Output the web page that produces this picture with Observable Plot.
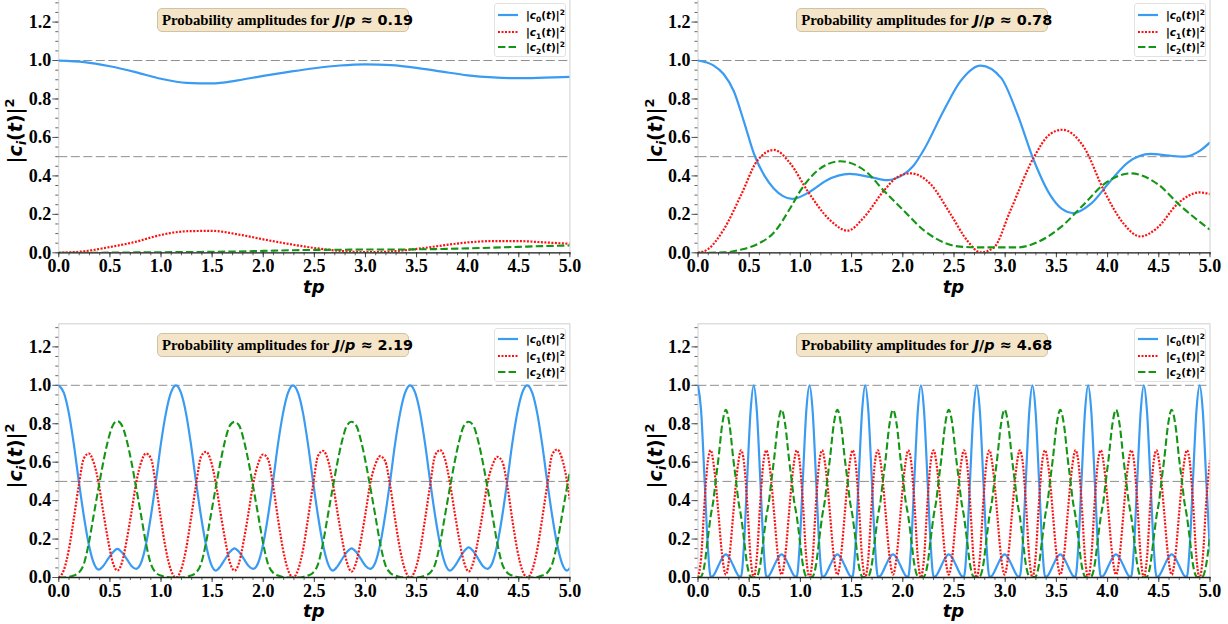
<!DOCTYPE html>
<html>
<head>
<meta charset="utf-8">
<script src="https://cdn.jsdelivr.net/npm/d3@7"></script>
<script src="https://cdn.jsdelivr.net/npm/@observablehq/plot@0.6"></script>
<style>
  html,body{margin:0;padding:0;background:#fff;}
  #wrap{position:relative;width:1228px;height:624px;overflow:hidden;background:#fff;}
  .panel{position:absolute;}
  .tbox{position:absolute;box-sizing:border-box;height:24px;width:252px;background:#f5e5c8;border:1px solid #cfc2a5;border-radius:5px;white-space:nowrap;font:bold 14.8px "Liberation Serif",serif;color:#000;line-height:22px;padding-left:4px;}
  .tbox .m{font-family:"DejaVu Sans";font-weight:bold;font-size:14.4px;margin-left:5px;}
  .tbox .m i{font-style:oblique;}
  .legend{position:absolute;box-sizing:border-box;width:72px;height:54px;background:#fff;border:1px solid #e2e2e2;border-radius:3px;}
  .lrow{position:absolute;left:0;height:14px;width:72px;}
  .lrow svg{position:absolute;left:2px;top:0;}
  .lab{position:absolute;left:31px;top:0;font:bold 10.5px "DejaVu Sans";line-height:14px;white-space:nowrap;}
  .lab sub,.lab sup{font-size:7.5px;line-height:0;}
  .ylab{position:absolute;font:bold 19px "DejaVu Sans";transform:translate(-50%,-50%) rotate(-90deg);white-space:nowrap;line-height:1;}
  .ylab sub,.ylab sup{font-size:13px;line-height:0;}
  .xlab{position:absolute;font:bold oblique 18px "DejaVu Sans";transform:translateX(-50%);line-height:12px;height:12px;}
</style>
</head>
<body>
<div id="wrap"></div>
<script>
// ---------- tick labels ----------
const xMajor = [0, 0.5, 1, 1.5, 2, 2.5, 3, 3.5, 4, 4.5, 5];
const xLabels = ["0.0","0.5","1.0","1.5","2.0","2.5","3.0","3.5","4.0","4.5","5.0"];
const yMajor = [0, 0.2, 0.4, 0.6, 0.8, 1.0, 1.2];
const yLabels = ["0.0","0.2","0.4","0.6","0.8","1.0","1.2"];
const refLines = [0.5, 1.0];
const ratios = ["0.19", "0.78", "2.19", "4.68"];
const seriesSub = ["0", "1", "2"];

// ---------- panel 1 (J/p ≈ 0.19) ----------
const p1_t  = [0,0.25,0.5,0.75,1,1.25,1.5,1.75,2,2.25,2.5,2.75,3,3.25,3.5,3.75,4,4.25,4.5,4.75,5];
const p1_c0 = [1,0.992,0.97,0.94,0.905,0.884,0.881,0.897,0.92,0.941,0.96,0.974,0.98,0.976,0.962,0.942,0.923,0.912,0.908,0.911,0.915];
const p1_c1 = [0,0.008,0.03,0.057,0.093,0.112,0.114,0.096,0.07,0.046,0.025,0.01,0.003,0.007,0.02,0.038,0.054,0.061,0.061,0.054,0.047];
const p1_c2 = [0,0,0.001,0.002,0.003,0.004,0.005,0.007,0.01,0.013,0.015,0.016,0.017,0.017,0.018,0.02,0.023,0.027,0.031,0.035,0.038];

// ---------- panel 2 (J/p ≈ 0.78) : [t, value] ----------
const p2_c0 = [[0,1.0],[0.15,0.975],[0.25,0.93],[0.35,0.84],[0.45,0.68],[0.55,0.51],[0.65,0.4],[0.74,0.335],[0.83,0.295],[0.92,0.28],[1.1,0.32],[1.25,0.375],[1.48,0.41],[1.7,0.392],[1.85,0.378],[2.0,0.405],[2.1,0.45],[2.21,0.54],[2.4,0.74],[2.56,0.89],[2.76,0.974],[2.96,0.91],[3.12,0.72],[3.28,0.48],[3.44,0.3],[3.55,0.23],[3.67,0.207],[3.835,0.254],[4.03,0.375],[4.2,0.47],[4.42,0.514],[4.6,0.505],[4.75,0.5],[4.9,0.53],[5.0,0.574]];
const p2_c1 = [[0,0],[0.1,0.02],[0.25,0.12],[0.42,0.3],[0.58,0.48],[0.742,0.535],[0.905,0.462],[1.068,0.323],[1.295,0.167],[1.46,0.115],[1.62,0.184],[1.815,0.323],[1.95,0.395],[2.077,0.413],[2.27,0.358],[2.468,0.2],[2.63,0.063],[2.76,0.002],[2.89,0.028],[3.05,0.219],[3.28,0.497],[3.44,0.618],[3.56,0.64],[3.77,0.548],[3.965,0.323],[4.16,0.149],[4.32,0.085],[4.49,0.132],[4.68,0.253],[4.9,0.314],[5.0,0.305]];
const p2_c2 = [[0,0],[0.254,0.002],[0.417,0.016],[0.58,0.045],[0.742,0.106],[0.905,0.236],[1.0,0.323],[1.166,0.427],[1.39,0.476],[1.65,0.418],[1.815,0.323],[2.01,0.219],[2.21,0.115],[2.4,0.054],[2.56,0.032],[2.79,0.028],[3.12,0.028],[3.31,0.054],[3.54,0.132],[3.77,0.253],[3.965,0.357],[4.225,0.413],[4.49,0.357],[4.71,0.245],[5.0,0.12]];

// ---------- panel 3 (J/p ≈ 2.19) ----------
const p3_t = [
0,0.05,0.1,0.145,0.196,0.245,0.294,0.34,0.39,0.435,0.48,0.527,0.573,0.619,0.666,0.711,0.756,0.806,0.852,0.901,0.95,1.0,1.046,1.096,
1.146,1.196,1.246,1.291,1.342,1.391,1.44,1.486,1.536,1.581,1.626,1.673,1.719,1.765,1.812,1.857,1.902,1.952,1.998,2.047,2.096,2.146,2.192,2.242,
2.291,2.341,2.391,2.436,2.487,2.536,2.585,2.631,2.681,2.726,2.771,2.818,2.864,2.91,2.957,3.002,3.047,3.097,3.143,3.192,3.241,3.291,3.337,3.387,
3.437,3.487,3.537,3.582,3.633,3.682,3.731,3.777,3.827,3.872,3.917,3.964,4.01,4.056,4.103,4.148,4.193,4.243,4.289,4.338,4.387,4.437,4.483,4.533,
4.582,4.632,4.682,4.727,4.778,4.827,4.876,4.922,4.972,5.0];
const p3_c0 = [
1,0.96,0.85,0.7,0.5,0.32,0.17,0.078,0.041,0.06,0.095,0.13,0.149,0.13,0.095,0.06,0.045,0.078,0.17,0.32,0.5,0.7,0.85,0.96,
1,0.96,0.85,0.7,0.5,0.32,0.17,0.075,0.036,0.058,0.095,0.132,0.152,0.132,0.095,0.06,0.045,0.078,0.17,0.32,0.5,0.7,0.85,0.96,
1,0.96,0.85,0.7,0.5,0.32,0.17,0.075,0.036,0.058,0.095,0.132,0.152,0.132,0.095,0.06,0.045,0.078,0.17,0.32,0.5,0.7,0.85,0.96,
1,0.96,0.85,0.7,0.5,0.32,0.17,0.075,0.036,0.058,0.097,0.136,0.157,0.136,0.097,0.06,0.045,0.078,0.17,0.32,0.5,0.7,0.85,0.96,
1,0.96,0.85,0.7,0.5,0.32,0.17,0.075,0.036,0.05];
const p3_c1 = [
0,0.04,0.15,0.3,0.48,0.62,0.645,0.6,0.49,0.34,0.2,0.08,0.036,0.08,0.2,0.34,0.49,0.6,0.645,0.62,0.48,0.3,0.15,0.04,
0,0.04,0.15,0.3,0.48,0.628,0.654,0.61,0.49,0.34,0.2,0.08,0.036,0.08,0.2,0.34,0.49,0.595,0.64,0.615,0.48,0.3,0.15,0.04,
0,0.04,0.15,0.3,0.48,0.633,0.659,0.615,0.49,0.34,0.2,0.08,0.031,0.08,0.2,0.34,0.49,0.588,0.631,0.607,0.48,0.3,0.15,0.04,
0,0.04,0.15,0.3,0.48,0.637,0.663,0.618,0.49,0.34,0.2,0.08,0.031,0.08,0.2,0.34,0.49,0.585,0.628,0.604,0.48,0.3,0.15,0.04,
0,0.04,0.15,0.3,0.48,0.64,0.666,0.62,0.5,0.4];
const p3_c2 = [
0,0,0.003,0.01,0.025,0.07,0.18,0.32,0.47,0.6,0.71,0.79,0.814,0.79,0.71,0.6,0.47,0.32,0.18,0.07,0.025,0.01,0.003,0,
0,0,0.003,0.01,0.025,0.07,0.18,0.32,0.47,0.6,0.71,0.79,0.81,0.79,0.71,0.6,0.47,0.32,0.18,0.07,0.025,0.01,0.003,0,
0,0,0.003,0.01,0.025,0.07,0.18,0.32,0.47,0.6,0.71,0.79,0.81,0.79,0.71,0.6,0.47,0.32,0.18,0.07,0.025,0.01,0.003,0,
0,0,0.003,0.01,0.025,0.07,0.18,0.32,0.47,0.6,0.71,0.79,0.81,0.79,0.71,0.6,0.47,0.32,0.18,0.07,0.025,0.01,0.003,0,
0,0,0.003,0.01,0.025,0.07,0.18,0.32,0.47,0.55];

// ---------- panel 4 (J/p ≈ 4.68) ----------
const p4_t = [
0,0.03,0.065,0.095,0.124,0.15,0.172,0.2,0.235,0.272,0.309,0.344,0.372,0.394,0.42,0.449,0.479,0.514,
0.544,0.574,0.609,0.639,0.668,0.694,0.716,0.744,0.779,0.816,0.853,0.888,0.916,0.938,0.964,0.993,1.023,1.058,
1.089,1.119,1.154,1.184,1.213,1.239,1.261,1.289,1.324,1.361,1.398,1.433,1.461,1.483,1.509,1.538,1.568,1.603,
1.633,1.663,1.698,1.728,1.757,1.783,1.805,1.833,1.868,1.905,1.942,1.977,2.005,2.027,2.053,2.082,2.112,2.147,
2.177,2.207,2.242,2.272,2.301,2.327,2.349,2.377,2.412,2.449,2.486,2.521,2.549,2.571,2.597,2.626,2.656,2.691,
2.722,2.752,2.787,2.817,2.846,2.872,2.894,2.922,2.957,2.994,3.031,3.066,3.094,3.116,3.142,3.171,3.201,3.236,
3.266,3.296,3.331,3.361,3.39,3.416,3.438,3.466,3.501,3.538,3.575,3.61,3.638,3.66,3.686,3.715,3.745,3.78,
3.81,3.84,3.875,3.905,3.934,3.96,3.982,4.01,4.045,4.082,4.119,4.154,4.182,4.204,4.23,4.259,4.289,4.324,
4.354,4.384,4.419,4.449,4.478,4.504,4.526,4.554,4.589,4.626,4.663,4.698,4.726,4.748,4.774,4.803,4.833,4.868,
4.899,4.929,4.964,5.0];
const p4_c0 = [
1,0.87,0.5,0.17,0.004,0.01,0.03,0.062,0.1,0.12,0.1,0.062,0.03,0.01,0.004,0.17,0.5,0.87,
1,0.87,0.5,0.17,0.004,0.01,0.03,0.062,0.1,0.12,0.1,0.062,0.03,0.01,0.004,0.17,0.5,0.87,
1,0.87,0.5,0.17,0.004,0.01,0.03,0.062,0.1,0.12,0.1,0.062,0.03,0.01,0.004,0.17,0.5,0.87,
1,0.87,0.5,0.17,0.004,0.01,0.03,0.062,0.1,0.12,0.1,0.062,0.03,0.01,0.004,0.17,0.5,0.87,
1,0.87,0.5,0.17,0.004,0.01,0.03,0.062,0.1,0.12,0.1,0.062,0.03,0.01,0.004,0.17,0.5,0.87,
1,0.87,0.5,0.17,0.004,0.01,0.03,0.062,0.1,0.12,0.1,0.062,0.03,0.01,0.004,0.17,0.5,0.87,
1,0.87,0.5,0.17,0.004,0.01,0.03,0.062,0.1,0.12,0.1,0.062,0.03,0.01,0.004,0.17,0.5,0.87,
1,0.87,0.5,0.17,0.004,0.01,0.03,0.062,0.1,0.12,0.1,0.062,0.03,0.01,0.004,0.17,0.5,0.87,
1,0.87,0.5,0.17,0.004,0.01,0.03,0.062,0.1,0.12,0.1,0.062,0.03,0.01,0.004,0.17,0.5,0.87,
1,0.87,0.5,0.13];
const p4_c1 = [
0,0.1,0.4,0.6,0.662,0.6,0.5,0.33,0.12,0.015,0.12,0.33,0.5,0.6,0.662,0.6,0.4,0.1,
0,0.1,0.4,0.6,0.662,0.6,0.5,0.33,0.12,0.015,0.12,0.33,0.5,0.6,0.662,0.6,0.4,0.1,
0,0.1,0.4,0.6,0.662,0.6,0.5,0.33,0.12,0.015,0.12,0.33,0.5,0.6,0.662,0.6,0.4,0.1,
0,0.1,0.4,0.6,0.662,0.6,0.5,0.33,0.12,0.015,0.12,0.33,0.5,0.6,0.662,0.6,0.4,0.1,
0,0.1,0.4,0.6,0.662,0.6,0.5,0.33,0.12,0.015,0.12,0.33,0.5,0.6,0.662,0.6,0.4,0.1,
0,0.1,0.4,0.6,0.662,0.6,0.5,0.33,0.12,0.015,0.12,0.33,0.5,0.6,0.662,0.6,0.4,0.1,
0,0.1,0.4,0.6,0.662,0.6,0.5,0.33,0.12,0.015,0.12,0.33,0.5,0.6,0.662,0.6,0.4,0.1,
0,0.1,0.4,0.6,0.662,0.6,0.5,0.33,0.12,0.015,0.12,0.33,0.5,0.6,0.662,0.6,0.4,0.1,
0,0.1,0.4,0.6,0.662,0.6,0.5,0.33,0.12,0.015,0.12,0.33,0.5,0.6,0.662,0.6,0.4,0.1,
0,0.1,0.4,0.61];
const p4_c2 = [
0,0.005,0.07,0.2,0.32,0.4,0.5,0.62,0.79,0.873,0.79,0.62,0.5,0.4,0.32,0.2,0.07,0.005,
0,0.005,0.07,0.2,0.32,0.4,0.5,0.62,0.79,0.873,0.79,0.62,0.5,0.4,0.32,0.2,0.07,0.005,
0,0.005,0.07,0.2,0.32,0.4,0.5,0.62,0.79,0.873,0.79,0.62,0.5,0.4,0.32,0.2,0.07,0.005,
0,0.005,0.07,0.2,0.32,0.4,0.5,0.62,0.79,0.873,0.79,0.62,0.5,0.4,0.32,0.2,0.07,0.005,
0,0.005,0.07,0.2,0.32,0.4,0.5,0.62,0.79,0.873,0.79,0.62,0.5,0.4,0.32,0.2,0.07,0.005,
0,0.005,0.07,0.2,0.32,0.4,0.5,0.62,0.79,0.873,0.79,0.62,0.5,0.4,0.32,0.2,0.07,0.005,
0,0.005,0.07,0.2,0.32,0.4,0.5,0.62,0.79,0.873,0.79,0.62,0.5,0.4,0.32,0.2,0.07,0.005,
0,0.005,0.07,0.2,0.32,0.4,0.5,0.62,0.79,0.873,0.79,0.62,0.5,0.4,0.32,0.2,0.07,0.005,
0,0.005,0.07,0.2,0.32,0.4,0.5,0.62,0.79,0.873,0.79,0.62,0.5,0.4,0.32,0.2,0.07,0.005,
0,0.005,0.07,0.22];

// ---------- styling ----------
const lineStyles = [
  {stroke: "#3a9bf2", strokeWidth: 2.2, strokeLinecap: "butt"},
  {stroke: "#ff1010", strokeWidth: 2.2, strokeDasharray: "2,1.5", strokeLinecap: "butt"},
  {stroke: "#139613", strokeWidth: 2.1, strokeDasharray: "7.4,3.2", strokeLinecap: "butt"}
];
const cols = [{x: 0, w: 600, ml: 58.3, mr: 30.6}, {x: 640, w: 588, ml: 57.5, mr: 18.5}];
const rowsL = [{y: -2, h: 300, mt: 0.5, mb: 45.7}, {y: 320, h: 300, mt: 3.3, mb: 43}];

const grid = (t, v) => t.map((d, i) => [d, v[i]]);
const panels = [
  {c: 0, r: 0, s: [grid(p1_t, p1_c0), grid(p1_t, p1_c1), grid(p1_t, p1_c2)]},
  {c: 1, r: 0, s: [p2_c0, p2_c1, p2_c2]},
  {c: 0, r: 1, s: [grid(p3_t, p3_c0), grid(p3_t, p3_c1), grid(p3_t, p3_c2)]},
  {c: 1, r: 1, s: [grid(p4_t, p4_c0), grid(p4_t, p4_c1), grid(p4_t, p4_c2)]}
];

const wrap = document.getElementById("wrap");
const yMinor = d3.range(0, 1.3001, 0.05);
const xMinor = d3.range(0, 5.0001, 0.1);

panels.forEach((p, k) => {
  const C = cols[p.c], R = rowsL[p.r];
  const marks = [
    Plot.frame({stroke: "#cfcfcf", strokeWidth: 1}),
    Plot.ruleY(refLines, {stroke: "#8f8f8f", strokeWidth: 1, strokeDasharray: "9,3.5"}),
    Plot.axisY({ticks: yMinor, tickSize: 3, tickFormat: () => "", stroke: "#666", label: null}),
    Plot.axisY({ticks: yMajor, tickSize: 6, tickPadding: 1.5, stroke: "#555",
      tickFormat: d => yLabels[yMajor.indexOf(d)], fontSize: 18, fontWeight: "bold",
      fontFamily: "Liberation Serif", fill: "#000", label: null}),
    Plot.axisX({ticks: xMinor, tickSize: 3, tickFormat: () => "", stroke: "#666", label: null}),
    Plot.axisX({ticks: xMajor, tickSize: 5, tickPadding: 1.5, stroke: "#444",
      tickFormat: d => xLabels[xMajor.indexOf(d)], fontSize: 18, fontWeight: "bold",
      fontFamily: "Liberation Serif", fill: "#000", label: null})
  ];
  p.s.forEach((pts, si) => {
    marks.push(Plot.line(pts, {x: d => d[0], y: d => d[1], curve: "monotone-x", clip: true, ...lineStyles[si]}));
  });
  marks.push(Plot.frame({anchor: "bottom", stroke: "#222", strokeWidth: 1.3}));
  const svg = Plot.plot({
    width: C.w, height: R.h,
    marginLeft: C.ml, marginRight: C.mr, marginTop: R.mt, marginBottom: R.mb,
    x: {domain: [0, 5]},
    y: {domain: [0, 1.32]},
    style: {background: "transparent", fontFamily: "Liberation Serif", fontSize: "18px", fontWeight: "bold", overflow: "visible"},
    marks
  });
  const holder = document.createElement("div");
  holder.className = "panel";
  holder.style.left = C.x + "px";
  holder.style.top = R.y + "px";
  holder.appendChild(svg);
  wrap.appendChild(holder);

  const plotLeft = C.x + C.ml, plotRight = C.x + C.w - C.mr;
  const plotTop = R.y + R.mt;

  // title box
  const tb = document.createElement("div");
  tb.className = "tbox";
  tb.style.left = (plotLeft + 98.7) + "px";
  tb.style.top = (plotTop + 9.8) + "px";
  tb.innerHTML = 'Probability amplitudes for<span class="m"><i>J</i>/<i>p</i> ≈ ' + ratios[k] + '</span>';
  wrap.appendChild(tb);

  // legend
  const lg = document.createElement("div");
  lg.className = "legend";
  lg.style.left = (plotRight - 75.5) + "px";
  lg.style.top = (plotTop + 4.5) + "px";
  [10.5, 27.5, 43].forEach((cy, si) => {
    const row = document.createElement("div");
    row.className = "lrow";
    row.style.top = (cy - 7) + "px";
    const st = lineStyles[si];
    row.innerHTML = `<svg width="24" height="14"><line x1="1" x2="21" y1="7" y2="7" stroke="${st.stroke}" stroke-width="${st.strokeWidth}" stroke-dasharray="${st.strokeDasharray || ""}"/></svg>` +
      `<span class="lab">|<i>c</i><sub>${seriesSub[si]}</sub>(<i>t</i>)|<sup>2</sup></span>`;
    lg.appendChild(row);
  });
  wrap.appendChild(lg);

  // y label
  const yl = document.createElement("div");
  yl.className = "ylab";
  yl.style.left = (plotLeft - 43) + "px";
  yl.style.top = (plotTop + 132.5) + "px";
  yl.innerHTML = '|<i>c</i><sub><i>i</i></sub>(<i>t</i>)|<sup>2</sup>';
  wrap.appendChild(yl);

  // x label
  const xl = document.createElement("div");
  xl.className = "xlab";
  xl.style.left = ((plotLeft + plotRight) / 2) + "px";
  xl.style.top = (plotTop + 282) + "px";
  xl.textContent = "tp";
  wrap.appendChild(xl);
});
</script>
</body>
</html>
